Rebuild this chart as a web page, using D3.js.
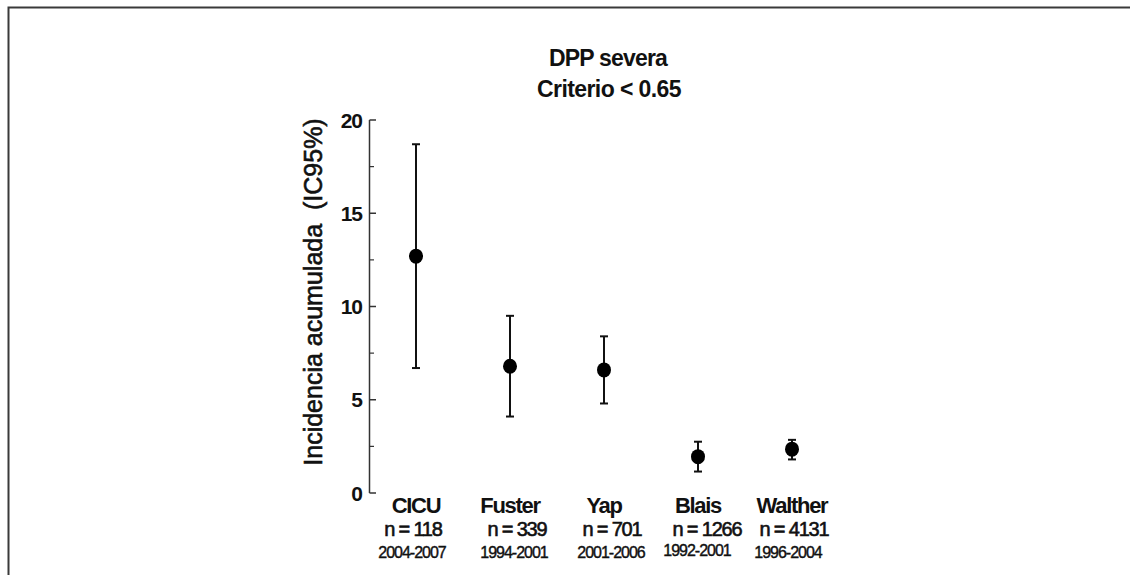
<!DOCTYPE html>
<html>
<head>
<meta charset="utf-8">
<script src="https://cdn.jsdelivr.net/npm/d3@7"></script>
<style>
    body { margin: 0; background: #fff; overflow: hidden; }
    svg { display: block; }
    text { font-family: "Liberation Sans", Arial, sans-serif; fill: #111; }
</style>
</head>
<body>
<div class="plot"></div>
<script>
"use strict";

// estudios y valores (incidencia acumulada, IC95%)
const studies = ["CICU", "Fuster", "Yap", "Blais", "Walther"];
const sizes = ["n = 118", "n = 339", "n = 701", "n = 1266", "n = 4131"];
const periods = ["2004-2007", "1994-2001", "2001-2006", "1992-2001", "1996-2004"];
const incidence = [12.7, 6.8, 6.6, 1.95, 2.35];
const lower = [6.7, 4.1, 4.8, 1.15, 1.8];
const upper = [18.7, 9.5, 8.4, 2.75, 2.85];
const yTicks = [0, 5, 10, 15, 20];
const yMinor = [2.5, 7.5, 12.5, 17.5];

// pequeños desplazamientos de las etiquetas (como en el original)
const sizeShift = [-3, 7, 8, 9, 2];
const periodShift = [-4, 4, 7, -1, -4];

const W = 1130, H = 575;

var svg = d3.select(".plot")
    .append("svg")
    .attr("width", W)
    .attr("height", H);

// marco
svg.append("path")
    .attr("d", `M8.5,${H} L8.5,7.5 L${W},7.5`)
    .attr("fill", "none")
    .attr("stroke", "#3a3a3a")
    .attr("stroke-width", 2);

var x = d3.scaleBand()
    .domain(studies)
    .range([369, 369 + 94 * studies.length]);

var y = d3.scaleLinear()
    .domain([0, 20])
    .range([493, 120]);

const cx = d => x(d) + x.bandwidth() / 2;

// titulo
svg.append("text")
    .attr("x", 608).attr("y", 66)
    .attr("text-anchor", "middle")
    .style("font-size", "23px").style("font-weight", "bold")
    .style("letter-spacing", "-0.8px")
    .text("DPP severa");
svg.append("text")
    .attr("x", 609).attr("y", 97)
    .attr("text-anchor", "middle")
    .style("font-size", "23px").style("font-weight", "bold")
    .style("letter-spacing", "-0.6px")
    .text("Criterio < 0.65");

// eje y
var axis = svg.append("g");
axis.append("line")
    .attr("x1", 369.5).attr("x2", 369.5)
    .attr("y1", y(20)).attr("y2", y(0))
    .attr("stroke", "#333").attr("stroke-width", 1.5);
axis.selectAll(".major")
    .data(yTicks).enter()
    .append("line")
    .attr("x1", 369.5).attr("x2", 376)
    .attr("y1", d => y(d)).attr("y2", d => y(d))
    .attr("stroke", "#333").attr("stroke-width", 1.5);
axis.selectAll(".minor")
    .data(yMinor).enter()
    .append("line")
    .attr("x1", 369.5).attr("x2", 374)
    .attr("y1", d => y(d)).attr("y2", d => y(d))
    .attr("stroke", "#333").attr("stroke-width", 1.2);
axis.selectAll(".lbl")
    .data(yTicks).enter()
    .append("text")
    .attr("x", 362)
    .attr("y", d => y(d) + 7.5)
    .attr("text-anchor", "end")
    .style("font-size", "21px").style("font-weight", "bold")
    .style("letter-spacing", "-1px")
    .text(d => d);

svg.append("text")
    .attr("transform", "translate(322,292) rotate(-90)")
    .attr("text-anchor", "middle")
    .style("font-size", "25px")
    .style("stroke", "#111").style("stroke-width", "0.6px")
    .attr("xml:space", "preserve")
    .text("Incidencia acumulada  (IC95%)");

// intervalos
var g = svg.append("g");
studies.forEach((s, i) => {
    g.append("line")
        .attr("x1", cx(s)).attr("x2", cx(s))
        .attr("y1", y(lower[i])).attr("y2", y(upper[i]))
        .attr("stroke", "#111").attr("stroke-width", 2);
    [lower[i], upper[i]].forEach(v => {
        g.append("line")
            .attr("x1", cx(s) - 4).attr("x2", cx(s) + 4)
            .attr("y1", y(v)).attr("y2", y(v))
            .attr("stroke", "#111").attr("stroke-width", 2);
    });
    g.append("ellipse")
        .attr("cx", cx(s)).attr("cy", y(incidence[i]))
        .attr("rx", 7).attr("ry", 7.5)
        .attr("fill", "#000");
});

// etiquetas de categoria
svg.selectAll(".study")
    .data(studies).enter()
    .append("text")
    .attr("x", d => cx(d)).attr("y", 513)
    .attr("text-anchor", "middle")
    .style("font-size", "22px").style("font-weight", "bold")
    .style("letter-spacing", "-1.3px")
    .text(d => d);
svg.selectAll(".size")
    .data(sizes).enter()
    .append("text")
    .attr("x", (d, i) => cx(studies[i]) + sizeShift[i]).attr("y", 536)
    .attr("text-anchor", "middle")
    .style("font-size", "20px")
    .style("stroke", "#111").style("stroke-width", "0.6px")
    .style("letter-spacing", "-1.2px")
    .text(d => d);
svg.selectAll(".period")
    .data(periods).enter()
    .append("text")
    .attr("x", (d, i) => cx(studies[i]) + periodShift[i]).attr("y", (d, i) => i === 3 ? 556 : 558)
    .attr("text-anchor", "middle")
    .style("font-size", "16px")
    .style("stroke", "#111").style("stroke-width", "0.4px")
    .style("letter-spacing", "-1px")
    .text(d => d);
</script>
</body>
</html>
